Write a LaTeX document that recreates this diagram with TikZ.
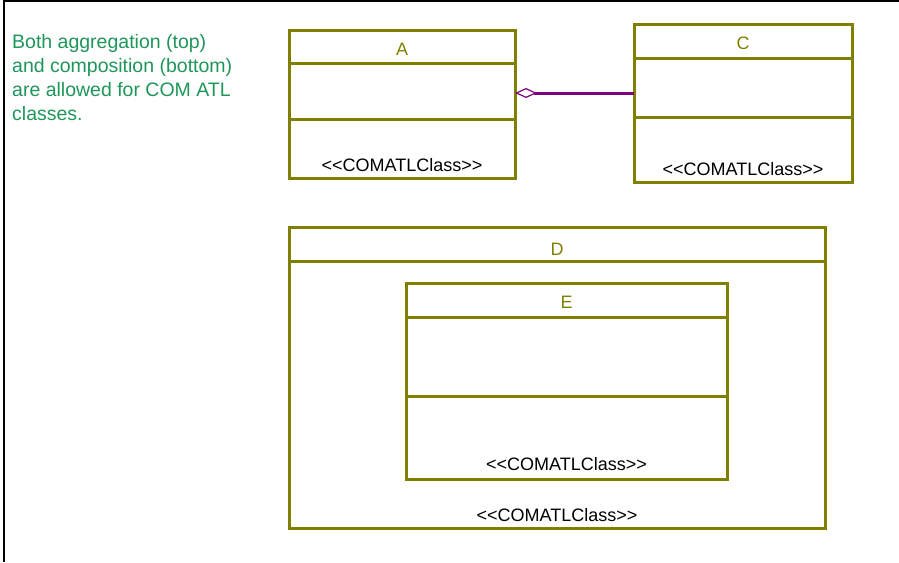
\documentclass[tikz,border=0pt]{standalone}
\usepackage{fontspec}
\setmainfont{Liberation Sans}
\usetikzlibrary{positioning,arrows.meta}

\definecolor{umlolive}{RGB}{128,128,0}
\definecolor{notegreen}{RGB}{30,150,90}
\definecolor{linkpurple}{RGB}{128,0,128}

\tikzset{
  umlclass/.style={rectangle, draw=umlolive, line width=3pt,
    inner sep=0pt, outer sep=0pt},
  ctitle/.style={text=umlolive, inner sep=0pt,
    font=\fontsize{18}{20}\selectfont},
  stereo/.style={text=black, inner sep=0pt,
    font=\fontsize{18}{20}\selectfont},
  compline/.style={draw=umlolive, line width=3pt}
}

\begin{document}
\begin{tikzpicture}[x=1pt, y=-1pt]
   \useasboundingbox (0,0) rectangle (899,562);
   % frame
   \draw[line width=2pt] (4,562) -- (4,1) -- (899,1);

   % note
   \node[text=notegreen,
         align=left,
         anchor=base west,
         inner sep=0pt,
         font=\fontsize{19.5}{24}\selectfont] (note) at (12,120)
         {Both aggregation (top)\\and composition (bottom)\\are allowed for COM ATL\\classes.};

   % classes
   \node[umlclass,
         minimum width=226pt,
         minimum height=148pt] (A) at (402,104) {};
   \node[umlclass,
         minimum width=218pt,
         minimum height=158pt] (C) at (743,103) {};
   \node[umlclass,
         minimum width=536pt,
         minimum height=301pt] (D) at (557,377.5) {};
   \node[umlclass,
         minimum width=321pt,
         minimum height=196pt] (E) at (566.5,381) {};

   % compartments
   \draw[compline] ([yshift=-33pt]A.north west) -- ([yshift=-33pt]A.north east);
   \draw[compline] ([yshift=-89pt]A.north west) -- ([yshift=-89pt]A.north east);
   \draw[compline] ([yshift=-34pt]C.north west) -- ([yshift=-34pt]C.north east);
   \draw[compline] ([yshift=-93pt]C.north west) -- ([yshift=-93pt]C.north east);
   \draw[compline] ([yshift=-34pt]D.north west) -- ([yshift=-34pt]D.north east);
   \draw[compline] ([yshift=-34pt]E.north west) -- ([yshift=-34pt]E.north east);
   \draw[compline] ([yshift=-113pt]E.north west) -- ([yshift=-113pt]E.north east);

   % names and stereotypes
   \node[ctitle, below=12.5pt of A.north] (Aname) {A};
   \node[ctitle, below=12.5pt of C.north] (Cname) {C};
   \node[ctitle, below=15.5pt of D.north] (Dname) {D};
   \node[ctitle, below=13pt of E.north] (Ename) {E};
   \node[stereo, above=6pt of A.south] (Astereo) {{<}{<}COMATLClass{>}{>}};
   \node[stereo, above=6.3pt of C.south] (Cstereo) {{<}{<}COMATLClass{>}{>}};
   \node[stereo, above=6.3pt of D.south] (Dstereo) {{<}{<}COMATLClass{>}{>}};
   \node[stereo, above=8.3pt of E.south] (Estereo) {{<}{<}COMATLClass{>}{>}};

   % aggregation
   \draw[draw=linkpurple,
         line width=3pt,
         {Diamond[open, length=22pt, width=10pt, line width=1.2pt]}-]
        ([yshift=11pt]A.east) -- ([yshift=11pt]A.east -| C.west);
\end{tikzpicture}
\end{document}
